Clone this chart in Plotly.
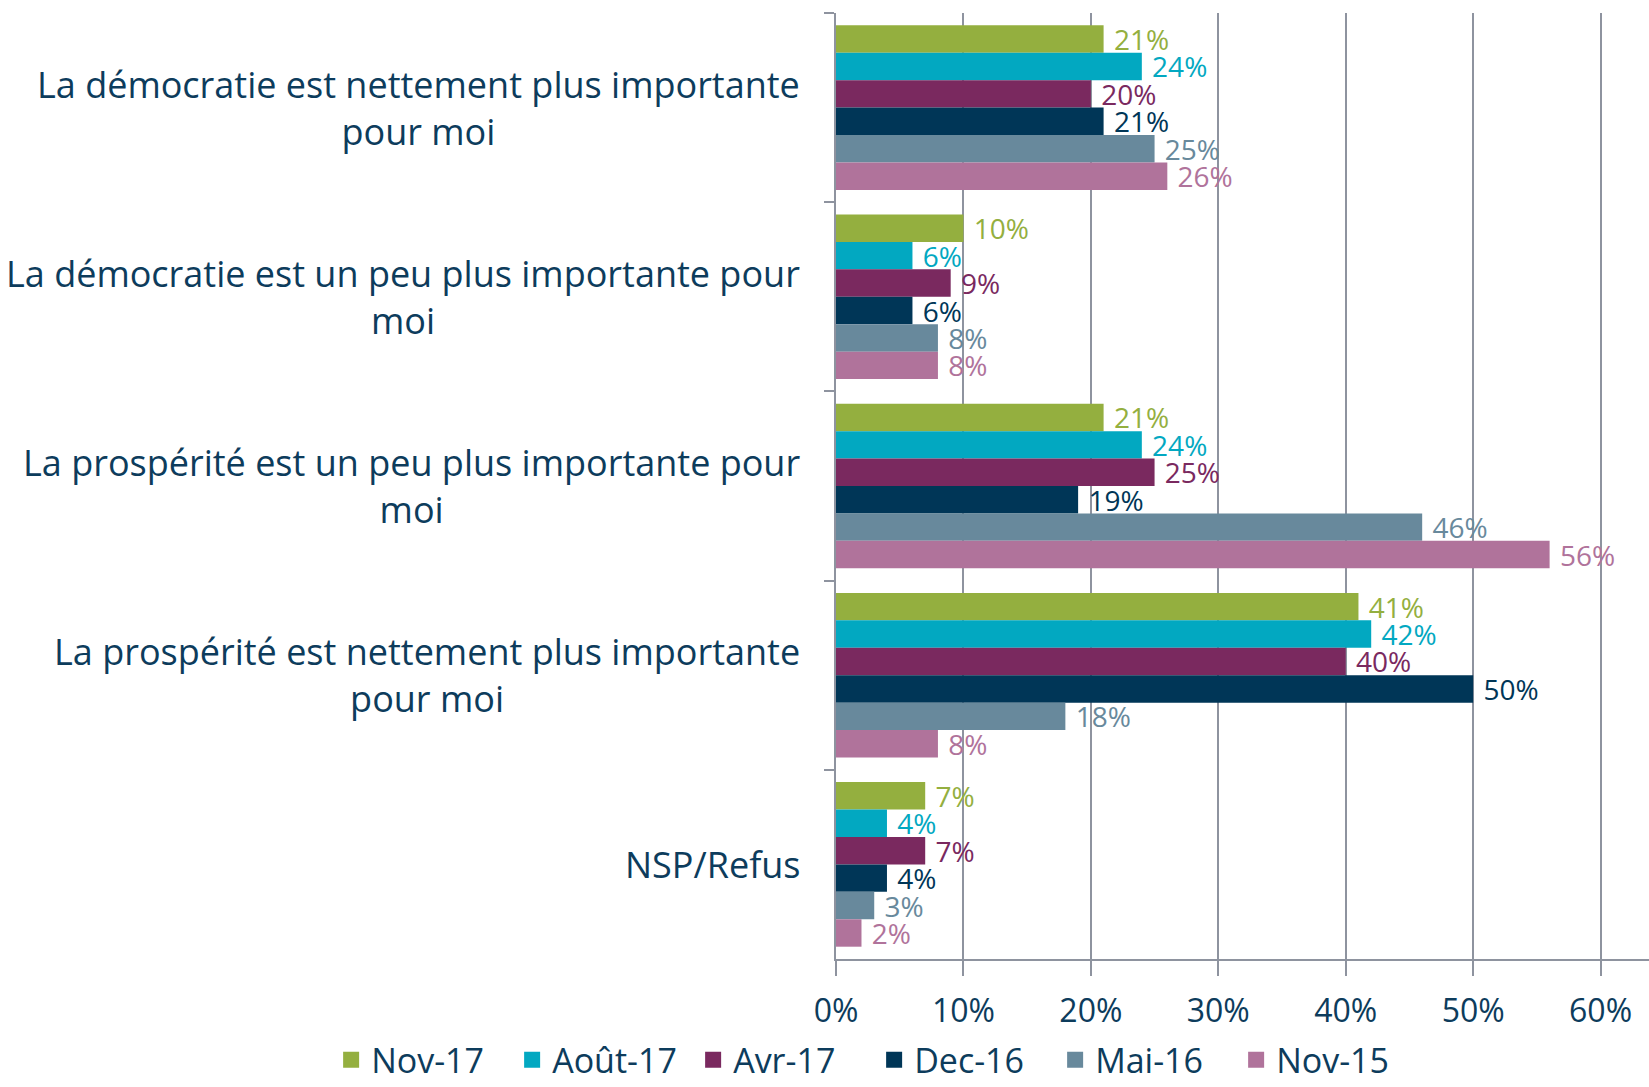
import plotly.graph_objects as go

categories = [
    "La démocratie est nettement plus importante<br>pour moi",
    "La démocratie est un peu plus importante pour<br>moi",
    "La prospérité est un peu plus importante pour<br>moi",
    "La prospérité est nettement plus importante<br>pour moi",
    "NSP/Refus",
]
series_names = ["Nov-17", "Août-17", "Avr-17", "Dec-16", "Mai-16", "Nov-15"]
values = {
    "Nov-17": [21, 10, 21, 41, 7],
    "Août-17": [24, 6, 24, 42, 4],
    "Avr-17": [20, 9, 25, 40, 7],
    "Dec-16": [21, 6, 19, 50, 4],
    "Mai-16": [25, 8, 46, 18, 3],
    "Nov-15": [26, 8, 56, 8, 2],
}
colors = {
    "Nov-17": "#94AF3F",
    "Août-17": "#02A8C1",
    "Avr-17": "#7A295F",
    "Dec-16": "#003657",
    "Mai-16": "#68899C",
    "Nov-15": "#B0739B",
}
tick_vals = [0, 10, 20, 30, 40, 50, 60]
tick_text = ["0%", "10%", "20%", "30%", "40%", "50%", "60%"]

FONT = "Open Sans"
TXT = "#0D3C5C"
GRID = "#8E939F"

fig = go.Figure()
for name in series_names:
    fig.add_trace(go.Bar(
        name=name,
        y=categories,
        x=values[name],
        orientation="h",
        marker=dict(color=colors[name], line=dict(width=0)),
        text=[f"\u00a0{v}%" for v in values[name]],
        textposition="outside",
        textfont=dict(color=colors[name], size=28, family=FONT),
        constraintext="none",
        cliponaxis=False,
        showlegend=False,
    ))

# legend entries with larger square swatches
for name in series_names:
    fig.add_trace(go.Scatter(
        name=name, x=[None], y=[None], mode="markers",
        marker=dict(symbol="square", size=16, color=colors[name]),
        showlegend=True, hoverinfo="skip",
    ))

for c in categories:
    fig.add_annotation(
        x=0, xref="paper", y=c, yref="y",
        text=c, showarrow=False, xanchor="right", yanchor="middle",
        align="center", xshift=-34,
        font=dict(family=FONT, size=36, color=TXT),
    )

fig.update_layout(
    width=1649, height=1087,
    margin=dict(l=836, r=0, t=13, b=128, autoexpand=False),
    paper_bgcolor="white", plot_bgcolor="white",
    barmode="group", bargap=0.13, bargroupgap=0,
    font=dict(family=FONT, color=TXT),
    showlegend=True,
    legend=dict(
        orientation="h", xref="paper", yref="paper",
        x=-0.621, xanchor="left", y=-0.107, yanchor="middle",
        font=dict(size=34, color=TXT, family=FONT), traceorder="normal",
        itemwidth=30, tracegroupgap=0, itemsizing="trace",
        entrywidth=136, entrywidthmode="pixels",
    ),
    xaxis=dict(
        range=[0, 63.8], tickvals=tick_vals, ticktext=tick_text,
        showgrid=True, gridcolor=GRID, gridwidth=1.5,
        showline=True, linecolor=GRID, linewidth=2,
        ticks="outside", ticklen=15, tickcolor=GRID, tickwidth=1.5,
        tickfont=dict(size=32, color=TXT, family=FONT),
        ticklabelstandoff=8, zeroline=False,
    ),
    yaxis=dict(
        autorange="reversed", showticklabels=False,
        showline=True, linecolor=GRID, linewidth=1.5,
        ticks="outside", ticklen=10, tickcolor=GRID, tickwidth=1.5,
        tickson="boundaries", showgrid=False,
    ),
)

fig.write_html(
    "out.html",
    config={"displayModeBar": False},
    post_script="document.body.style.margin='0px';",
)
